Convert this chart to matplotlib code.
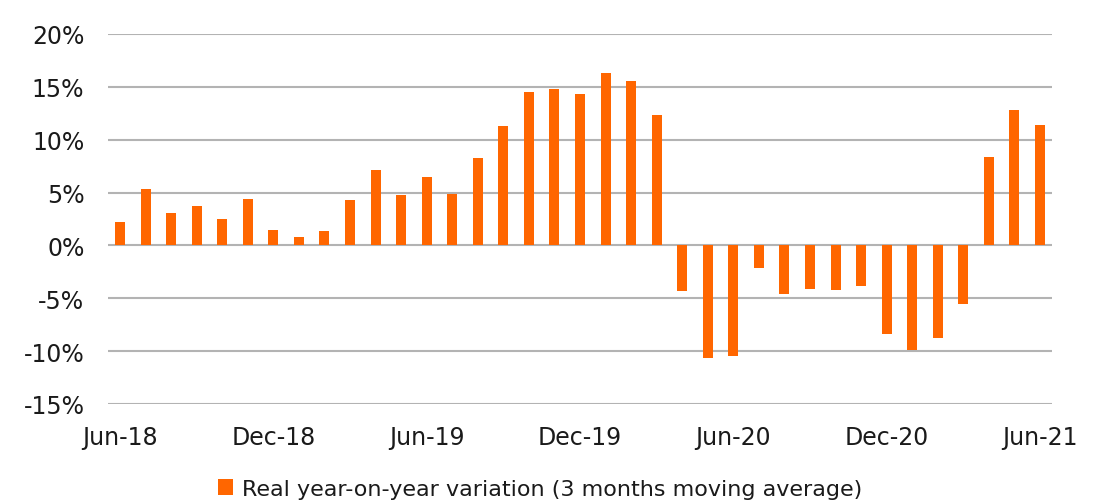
import matplotlib
matplotlib.use("Agg")
import matplotlib.pyplot as plt
from matplotlib.ticker import FuncFormatter, FixedLocator
from matplotlib.patches import Patch

months = ["Jun-18", "Jul-18", "Aug-18", "Sep-18", "Oct-18", "Nov-18", "Dec-18",
          "Jan-19", "Feb-19", "Mar-19", "Apr-19", "May-19", "Jun-19",
          "Jul-19", "Aug-19", "Sep-19", "Oct-19", "Nov-19", "Dec-19",
          "Jan-20", "Feb-20", "Mar-20", "Apr-20", "May-20", "Jun-20",
          "Jul-20", "Aug-20", "Sep-20", "Oct-20", "Nov-20", "Dec-20",
          "Jan-21", "Feb-21", "Mar-21", "Apr-21", "May-21", "Jun-21"]
values = [2.2, 5.3, 3.1, 3.7, 2.5, 4.4, 1.5,
          0.8, 1.4, 4.3, 7.15, 4.75, 6.5,
          4.85, 8.25, 11.3, 14.5, 14.8, 14.35,
          16.35, 15.55, 12.35, -4.35, -10.65, -10.45,
          -2.1, -4.6, -4.1, -4.25, -3.8, -8.4,
          -9.85, -8.8, -5.55, 8.4, 12.85, 11.4]
tick_labels = ["Jun-18", "Dec-18", "Jun-19", "Dec-19", "Jun-20", "Dec-20", "Jun-21"]
y_ticks = [-15, -10, -5, 0, 5, 10, 15, 20]
legend_label = "Real year-on-year variation (3 months moving average)"

bar_color = "#FF6600"
grid_color = "#B3B3B3"
text_color = "#1a1a1a"

fig = plt.figure(figsize=(11.01, 5.02), dpi=100)
ax = fig.add_axes([108/1101, 1 - 405/502, (1052-108)/1101, (405-35)/502])

x = list(range(len(months)))
ax.bar(x, values, width=0.39, color=bar_color, zorder=3)

ax.set_ylim(-15, 20)
ax.set_xlim(-0.47, len(months) - 1 + 0.47)
ax.yaxis.set_major_locator(FixedLocator(y_ticks))
ax.yaxis.set_major_formatter(FuncFormatter(lambda v, p: f"{int(v)}%"))
tick_pos = [months.index(t) for t in tick_labels]
ax.set_xticks(tick_pos)
ax.set_xticklabels(tick_labels)

for yv in y_ticks:
    ax.axhline(yv, color=grid_color, linewidth=1.5, zorder=1)

for s in ax.spines.values():
    s.set_visible(False)
ax.tick_params(axis="both", length=0, labelsize=17, colors=text_color)
ax.tick_params(axis="y", pad=17)
ax.tick_params(axis="x", pad=15)

handle = Patch(facecolor=bar_color, edgecolor="none")
fig.legend([handle], [legend_label], loc="center", bbox_to_anchor=(540/1101, 1 - 490/502),
           frameon=False, fontsize=16, handlelength=0.7, handleheight=0.7,
           handletextpad=0.4, labelcolor=text_color)

fig.savefig("out.png", dpi=100)
